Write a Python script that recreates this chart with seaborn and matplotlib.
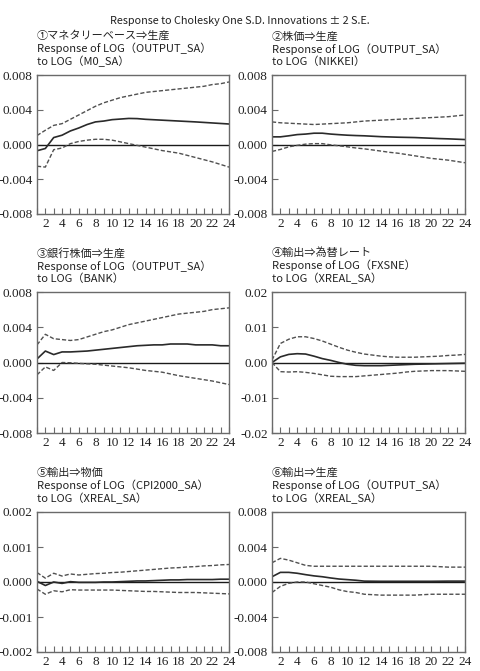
import matplotlib
matplotlib.use('Agg')
import matplotlib.pyplot as plt
import numpy as np
import pandas as pd
import seaborn as sns
from matplotlib.ticker import MultipleLocator, FormatStrFormatter

periods = list(range(1, 25))

main_title = 'Response to Cholesky One S.D. Innovations ± 2 S.E.'

panel_titles = [
    ['①マネタリーベース⇒生産', 'Response of LOG（OUTPUT_SA）', 'to LOG（M0_SA）'],
    ['②株価⇒生産', 'Response of LOG（OUTPUT_SA）', 'to LOG（NIKKEI）'],
    ['③銀行株価⇒生産', 'Response of LOG（OUTPUT_SA）', 'to LOG（BANK）'],
    ['④輸出⇒為替レート', 'Response of LOG（FXSNE）', 'to LOG（XREAL_SA）'],
    ['⑤輸出⇒物価', 'Response of LOG（CPI2000_SA）', 'to LOG（XREAL_SA）'],
    ['⑥輸出⇒生産', 'Response of LOG（OUTPUT_SA）', 'to LOG（XREAL_SA）'],
]

y_limits = [0.008, 0.008, 0.008, 0.02, 0.002, 0.008]
y_steps = [0.004, 0.004, 0.004, 0.01, 0.001, 0.004]
y_formats = ['%.3f', '%.3f', '%.3f', '%.2f', '%.3f', '%.3f']

# ① M0 -> output
p1_resp = [-0.00072, -0.00046, 0.0008, 0.00107, 0.00156, 0.0019, 0.0023, 0.0026, 0.0027, 0.00286, 0.00293, 0.0030,
           0.00298, 0.0029, 0.00285, 0.0028, 0.00275, 0.0027, 0.00265, 0.0026, 0.00254, 0.00248, 0.00242, 0.00236]
p1_up = [0.00103, 0.00164, 0.0022, 0.0024, 0.0029, 0.0034, 0.0039, 0.0044, 0.0048, 0.0051, 0.0054, 0.0056,
         0.0058, 0.0060, 0.0061, 0.0062, 0.0063, 0.0064, 0.0065, 0.0066, 0.0067, 0.0069, 0.0070, 0.0072]
p1_lo = [-0.0025, -0.0026, -0.0006, -0.0004, 0.0001, 0.00035, 0.0005, 0.0006, 0.0006, 0.0005, 0.0003, 0.0001,
         -0.0001, -0.0003, -0.0005, -0.0007, -0.00085, -0.001, -0.00125, -0.0015, -0.00175, -0.002, -0.0023, -0.0026]

# ② NIKKEI -> output
p2_resp = [0.00088, 0.00088, 0.001, 0.00114, 0.0012, 0.0013, 0.0013, 0.0012, 0.00113, 0.00107, 0.00103, 0.001,
           0.00095, 0.0009, 0.00087, 0.00084, 0.00082, 0.0008, 0.00076, 0.00072, 0.00068, 0.00065, 0.00061, 0.00057]
p2_up = [0.0026, 0.0025, 0.00245, 0.0024, 0.00235, 0.0023, 0.00235, 0.0024, 0.00245, 0.0025, 0.0026, 0.0027,
         0.00275, 0.0028, 0.00285, 0.0029, 0.00295, 0.003, 0.00305, 0.0031, 0.00315, 0.0032, 0.0033, 0.0034]
p2_lo = [-0.0008, -0.00057, -0.00027, -0.0001, 0.00004, 0.0001, 0.0001, -0.00004, -0.00015, -0.00027, -0.0004, -0.0005,
         -0.00063, -0.00076, -0.0009, -0.001, -0.00115, -0.0013, -0.00145, -0.0016, -0.0017, -0.0018, -0.00195, -0.0021]

# ③ BANK -> output
p3_resp = [0.0004, 0.0013, 0.0009, 0.0012, 0.0012, 0.00125, 0.0013, 0.0014, 0.0015, 0.0016, 0.0017, 0.0018,
           0.0019, 0.00195, 0.002, 0.002, 0.0021, 0.0021, 0.0021, 0.002, 0.002, 0.002, 0.0019, 0.0019]
p3_up = [0.002, 0.0032, 0.0027, 0.0026, 0.0025, 0.0026, 0.0029, 0.0032, 0.0035, 0.0037, 0.004, 0.0043,
         0.0045, 0.0047, 0.0049, 0.0051, 0.0053, 0.0055, 0.0056, 0.0057, 0.0058, 0.006, 0.0061, 0.0062]
p3_lo = [-0.0014, -0.0005, -0.0009, 0.0, -0.00003, -0.0001, -0.00015, -0.0002, -0.0003, -0.0004, -0.0005, -0.0006,
         -0.00075, -0.0009, -0.001, -0.0011, -0.0013, -0.0015, -0.00165, -0.0018, -0.00195, -0.0021, -0.0023, -0.0025]

# ④ exports -> FX
p4_resp = [0.0, 0.0016, 0.0023, 0.0025, 0.0024, 0.0018, 0.0011, 0.0006, 0.0, -0.0005, -0.0008, -0.0009,
           -0.0009, -0.0009, -0.0008, -0.0007, -0.0006, -0.0005, -0.00045, -0.0004, -0.00035, -0.0003, -0.00025, -0.0002]
p4_up = [0.0007, 0.0054, 0.0066, 0.0073, 0.0073, 0.0068, 0.0061, 0.0052, 0.0043, 0.0035, 0.0029, 0.0024,
         0.0021, 0.0018, 0.0016, 0.0015, 0.0015, 0.0015, 0.0016, 0.0017, 0.0018, 0.002, 0.0021, 0.0023]
p4_lo = [0.0, -0.0026, -0.0027, -0.0026, -0.0028, -0.0031, -0.0035, -0.0039, -0.004, -0.004, -0.004, -0.0038,
         -0.0036, -0.0034, -0.0032, -0.003, -0.0027, -0.0025, -0.0024, -0.0023, -0.0023, -0.0023, -0.0024, -0.0025]

# ⑤ exports -> prices
p5_resp = [0.00002, -0.0001, 0.0, -0.00004, 0.00001, -0.00001, -0.00001, -0.00001, 0.0, 0.0, 0.00001, 0.00002,
           0.00003, 0.00003, 0.00004, 0.00005, 0.00006, 0.00006, 0.00007, 0.00007, 0.00007, 0.00007, 0.00008, 0.00008]
p5_up = [0.00027, 0.00011, 0.00025, 0.00017, 0.00023, 0.0002, 0.00022, 0.00024, 0.00025, 0.00027, 0.00028, 0.0003,
         0.00032, 0.00034, 0.00036, 0.00038, 0.0004, 0.00041, 0.00043, 0.00044, 0.00046, 0.00047, 0.00049, 0.0005]
p5_lo = [-0.0002, -0.00035, -0.00025, -0.00028, -0.00022, -0.00023, -0.00023, -0.00023, -0.00023, -0.00023, -0.00024, -0.00025,
         -0.00026, -0.00027, -0.00027, -0.00028, -0.00029, -0.0003, -0.0003, -0.0003, -0.00031, -0.00032, -0.00033, -0.00034]

# ⑥ exports -> output
p6_resp = [0.0006, 0.0011, 0.0011, 0.001, 0.00084, 0.0007, 0.0006, 0.00046, 0.00034, 0.00027, 0.0002, 0.0001,
           0.00009, 0.00008, 0.00008, 0.00008, 0.00008, 0.00008, 0.00008, 0.00008, 0.00009, 0.0001, 0.0001, 0.0001]
p6_up = [0.0022, 0.0027, 0.0025, 0.0022, 0.0019, 0.0018, 0.0018, 0.0018, 0.0018, 0.0018, 0.0018, 0.0018,
         0.0018, 0.0018, 0.0018, 0.0018, 0.0018, 0.0018, 0.0018, 0.0018, 0.00175, 0.0017, 0.0017, 0.0017]
p6_lo = [-0.0012, -0.0005, -0.00015, 0.0, 0.0, -0.0002, -0.0004, -0.0006, -0.0009, -0.0011, -0.0012, -0.0014,
         -0.00145, -0.0015, -0.0015, -0.0015, -0.0015, -0.0015, -0.00145, -0.0014, -0.0014, -0.0014, -0.0014, -0.0014]

panels = [
    (p1_resp, p1_up, p1_lo),
    (p2_resp, p2_up, p2_lo),
    (p3_resp, p3_up, p3_lo),
    (p4_resp, p4_up, p4_lo),
    (p5_resp, p5_up, p5_lo),
    (p6_resp, p6_up, p6_lo),
]

sns.set_theme(style='ticks')
plt.rcParams['font.family'] = ['Noto Sans CJK JP', 'DejaVu Sans']
plt.rcParams['axes.unicode_minus'] = False

W, H = 481, 671
fig = plt.figure(figsize=(W / 100, H / 100), dpi=100)

# axes boxes in pixels: (left, top, right, bottom)
lefts = [37, 272]
rights = [229, 465]
rows = [(75, 214), (292, 433), (512, 652)]

text_col = '#222222'
frame_col = '#6a6a6a'

fig.text(240 / W, 1 - 21 / H, main_title, ha='center', va='center', fontsize=7.8, color=text_col)

axes = []
for i, (resp, up, lo) in enumerate(panels):
    r, c = divmod(i, 2)
    top, bot = rows[r]
    ax = fig.add_axes([lefts[c] / W, 1 - bot / H, (rights[c] - lefts[c]) / W, (bot - top) / H])
    axes.append(ax)

    df = pd.DataFrame({'period': periods, 'resp': resp, 'up': up, 'lo': lo})
    ax.axhline(0, color='#1a1a1a', lw=1.0, zorder=1)
    sns.lineplot(data=df, x='period', y='up', ax=ax, color='#505050', lw=1.0, linestyle=(0, (3, 1.5)))
    sns.lineplot(data=df, x='period', y='lo', ax=ax, color='#505050', lw=1.0, linestyle=(0, (3, 1.5)))
    sns.lineplot(data=df, x='period', y='resp', ax=ax, color='#2a2a2a', lw=1.2)

    lim = y_limits[i]
    ax.set_xlim(1, 24)
    ax.set_ylim(-lim, lim)
    ax.set_xlabel('')
    ax.set_ylabel('')
    ax.set_xticks(range(2, 25, 2))
    ax.xaxis.set_minor_locator(MultipleLocator(1))
    ax.yaxis.set_major_locator(MultipleLocator(y_steps[i]))
    ax.yaxis.set_major_formatter(FormatStrFormatter(y_formats[i]))
    ax.tick_params(axis='both', which='both', direction='in', colors=frame_col, labelcolor=text_col,
                   width=0.8, labelfontfamily='Liberation Serif', labelsize=9.5)
    ax.tick_params(axis='x', which='major', length=4, pad=3)
    ax.tick_params(axis='x', which='minor', length=4)
    ax.tick_params(axis='y', which='major', length=4, pad=3)
    for sp in ax.spines.values():
        sp.set_color(frame_col)
        sp.set_linewidth(1.0)

    ax.text(0.0, 1.0 + 8 / (bot - top), '\n'.join(panel_titles[i]), transform=ax.transAxes,
            ha='left', va='bottom', fontsize=8, color=text_col, linespacing=1.15)

# make sure the tick numbers end up in the serif face
fig.canvas.draw()
for ax in axes:
    for lab in ax.get_xticklabels() + ax.get_yticklabels():
        lab.set_fontfamily(['Liberation Serif'])

fig.savefig('out.png', dpi=100)
